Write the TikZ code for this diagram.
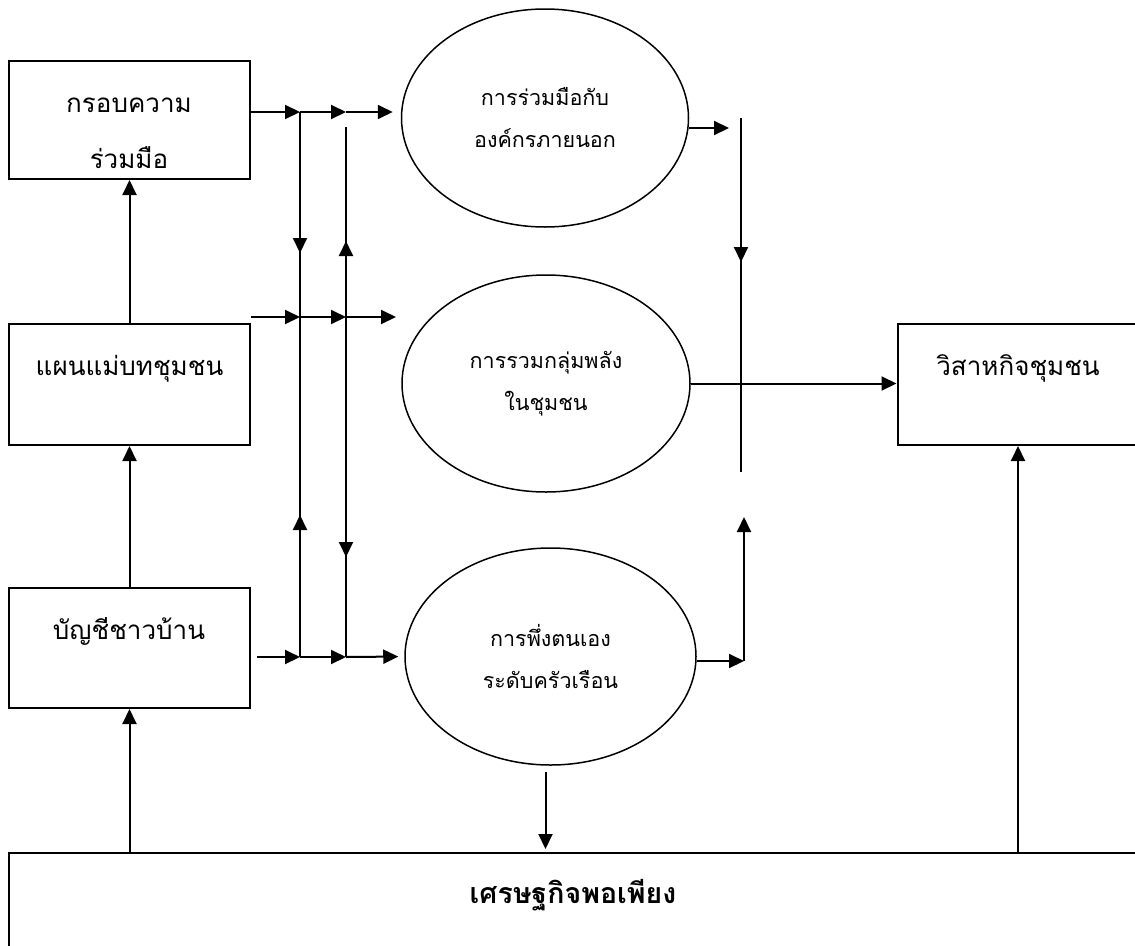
\documentclass[tikz,border=0pt]{standalone}
\usepackage{fontspec}
\newfontfamily\thaifont[Script=Thai]{Loma}
\usetikzlibrary{arrows.meta,shapes.geometric,decorations.markings}

\tikzset{
    box/.style={draw, line width=2pt, minimum width=241, minimum height=120, inner sep=0pt},
    blob/.style={draw, ellipse, line width=1.5pt, inner sep=0pt, align=center,
        font=\thaifont\fontsize{21.5}{42}\selectfont},
    boxtext/.style={anchor=base, inner sep=0pt, font=\thaifont\fontsize{26}{32}\selectfont},
    flow/.style={line width=2pt},
    tip/.style={flow, -{Triangle[length=15pt,width=14pt]}},
    headat/.style={postaction={decorate, decoration={markings,
        mark=at position #1 with {\arrow{Triangle[length=15pt,width=14pt]}}}}},
    backat/.style={postaction={decorate, decoration={markings,
        mark=at position #1 with {\arrowreversed{Triangle[length=15pt,width=14pt]}}}}}
}

\begin{document}
\begin{tikzpicture}[x=1pt, y=-1pt]
    \useasboundingbox (0, 0) rectangle (1135, 945);
    \clip (0, 0) rectangle (1135, 945);

    % left column
    \node (frame) at (129.5, 120) [box, minimum height=118] {};
    \node (plan) at (129.5, 384.5) [box, minimum height=121] {};
    \node (acct) at (129.5, 648) [box] {};
    \node (frame-t1) at (129, 112) [boxtext] {กรอบความ};
    \node (frame-t2) at (129, 168) [boxtext] {ร่วมมือ};
    \node (plan-t) at (129.5, 375) [boxtext] {แผนแม่บทชุมชน};
    \node (acct-t) at (129, 639) [boxtext] {บัญชีชาวบ้าน};

    % middle column
    \node (coop) at (545, 118) [blob, minimum width=287, minimum height=218] {การร่วมมือกับ\\องค์กรภายนอก};
    \node (group) at (546, 383.5) [blob, minimum width=288, minimum height=217] {การรวมกลุ่มพลัง\\ในชุมชน};
    \node (self) at (550.5, 656.5) [blob, minimum width=291, minimum height=217] {การพึ่งตนเอง\\ระดับครัวเรือน};

    % right and bottom
    \node (ent) at (1018, 384.5) [box, minimum height=121] {};
    \node (ent-t) at (1018, 375) [boxtext] {วิสาหกิจชุมชน};
    \node (suff) at (573, 917) [box, minimum width=1128, minimum height=128] {};
    \node (suff-t) at (573, 903) [boxtext, font=\thaifont\bfseries\fontsize{28.5}{34}\selectfont] {เศรษฐกิจพอเพียง};

    % junctions
    \coordinate (a1) at (300, 112);
    \coordinate (b1) at (346, 112);
    \coordinate (a2) at (300, 317);
    \coordinate (b2) at (346, 317);
    \coordinate (a3) at (300, 657);
    \coordinate (b3) at (346, 657);
    \coordinate (b0) at (346, 127);
    \coordinate (g2) at (396, 317);
    \coordinate (r0) at (741, 118);
    \coordinate (r1) at (741, 472);
    \coordinate (c3) at (744, 661);
    \coordinate (u3) at (744, 517);

    % rows of arrows
    \draw [tip] (frame.east |- a1) -- (a1);
    \draw [tip] (a1) -- (b1);
    \draw [tip, shorten >=8] (b1) -- (coop.west |- b1);
    \draw [tip] (plan.east |- a2) -- (a2);
    \draw [tip] (a2) -- (b2);
    \draw [tip] (b2) -- (g2);
    \draw [tip, shorten <=6] (acct.east |- a3) -- (a3);
    \draw [tip] (a3) -- (b3);
    \draw [tip, shorten >=6] (b3) -- (self.west);

    % verticals
    \draw [flow, headat=141pt, backat=403pt] (a1) -- (a3);
    \draw [flow, backat=114pt, headat=430pt] (b0) -- (b3);
    \draw [flow, headat=144pt] (r0) -- (r1);
    \draw [tip] (plan.north) -- (frame.south);
    \draw [tip] (acct.north) -- (plan.south);
    \draw [tip] (acct.south |- suff.north) -- (acct.south);
    \draw [tip] (suff.north -| ent.south) -- (ent.south);

    % outputs
    \draw [tip] (coop.east |- 0, 128) -- (729, 128);
    \draw [tip] (group.east) -- (group.east -| ent.west);
    \draw [tip] (self.east |- c3) -- (c3);
    \draw [tip] (c3) -- (u3);
    \draw [tip, shorten <=6, shorten >=3] ([xshift=-5]self.south) -- ([xshift=-5]self.south |- suff.north);
\end{tikzpicture}
\end{document}
